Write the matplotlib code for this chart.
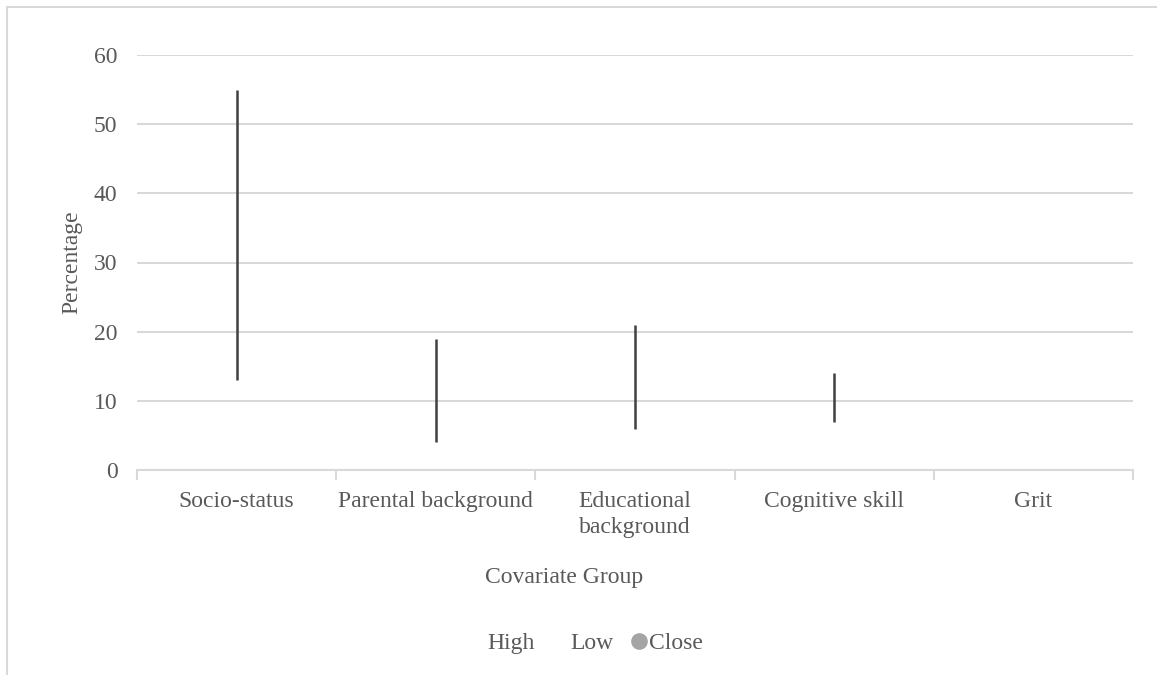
#!/usr/bin/env python3
"""High-low chart of percentage by covariate group."""

import matplotlib
matplotlib.use("Agg")
import matplotlib.pyplot as plt
from matplotlib.lines import Line2D
from matplotlib.patches import Rectangle
import numpy as np

groups = ["Socio-status", "Parental background", "Educational\nbackground",
          "Cognitive skill", "Grit"]
high = [55, 19, 21, 14, np.nan]
low = [13, 4, 6, 7, np.nan]
yticks = [0, 10, 20, 30, 40, 50, 60]

text_color = "#595959"
grid_color = "#d9d9d9"

plt.rcParams["font.family"] = ["Liberation Serif", "DejaVu Serif"]

W, H = 1157, 675
fig = plt.figure(figsize=(W / 100, H / 100), dpi=100)
ax = fig.add_axes([137 / W, 1 - 470 / H, (1133 - 137) / W, (470 - 55) / H])

# chart border
fig.patches.append(Rectangle((7 / W, -0.01), 1.02 - 7 / W, 1 - 7 / H + 0.01,
                             transform=fig.transFigure, fill=False,
                             edgecolor=grid_color, linewidth=1.5))

x = np.arange(len(groups))
ax.set_xlim(-0.5, len(groups) - 0.5)
ax.set_ylim(0, 60)
ax.set_yticks(yticks)
ax.yaxis.grid(True, color=grid_color, linewidth=1.5)
ax.set_axisbelow(True)

for xi, h, l in zip(x, high, low):
    if not np.isnan(h):
        ax.vlines(xi, l, h, color="#404040", linewidth=1.8, zorder=3)

for side in ["top", "right", "left"]:
    ax.spines[side].set_visible(False)
ax.spines["bottom"].set_color(grid_color)
ax.spines["bottom"].set_linewidth(1.5)

ax.set_xticks(x)
ax.set_xticklabels(groups)
ax.set_xticks(np.arange(-0.5, len(groups)), minor=True)
ax.tick_params(axis="x", which="major", length=0, pad=15,
               labelsize=17, labelcolor=text_color)
ax.tick_params(axis="x", which="minor", length=7, width=1.5, color=grid_color)
ax.tick_params(axis="y", length=0, pad=14, labelsize=17, labelcolor=text_color)
for lbl in ax.get_xticklabels():
    lbl.set_verticalalignment("top")
    lbl.set_linespacing(1.35)

ax.set_xlabel("Covariate Group", fontsize=17, color=text_color, va="center")
ax.xaxis.set_label_coords((564 - 137) / 996, (470 - 577) / 415)
ax.set_ylabel("Percentage", fontsize=17, color=text_color, va="center")
ax.yaxis.set_label_coords((72 - 137) / 996, 0.5)

handles = [
    Line2D([], [], linestyle="none", marker="none", label="High"),
    Line2D([], [], linestyle="none", marker="none", label="Low"),
    Line2D([], [], linestyle="none", marker="o", markersize=11,
           color="#a5a5a5", label="Close"),
]
fig.legend(handles=handles, loc="center", bbox_to_anchor=(586 / W, 1 - 643 / H),
           ncol=3, frameon=False, fontsize=17, labelcolor=text_color,
           handlelength=0.7, handletextpad=0.1, columnspacing=0.7)

fig.savefig("out.png", dpi=100)
